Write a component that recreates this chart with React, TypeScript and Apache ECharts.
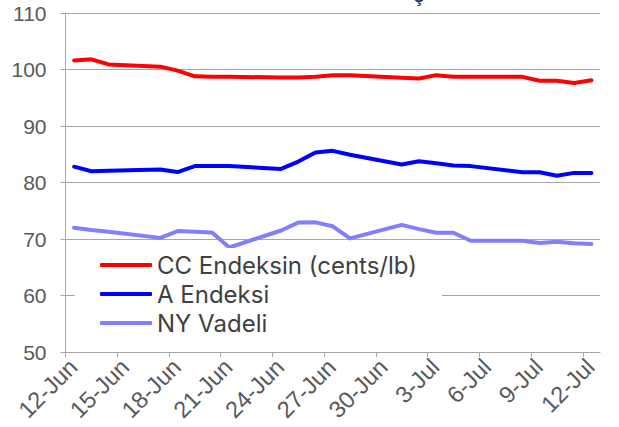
import React, { useEffect, useRef } from 'react';
import * as echarts from 'echarts';

// Trading dates (2024) and the three price series (cents/lb)
const dates = [
  '2024-06-12', '2024-06-13', '2024-06-14', '2024-06-17', '2024-06-18', '2024-06-19',
  '2024-06-20', '2024-06-21', '2024-06-24', '2024-06-25', '2024-06-26', '2024-06-27',
  '2024-06-28', '2024-07-01', '2024-07-02', '2024-07-03', '2024-07-04', '2024-07-05',
  '2024-07-08', '2024-07-09', '2024-07-10', '2024-07-11', '2024-07-12',
];
const ccIndex = [
  101.6, 101.8, 100.9, 100.5, 99.8, 98.8, 98.7, 98.7, 98.6, 98.6, 98.7, 99.0,
  99.0, 98.55, 98.4, 99.0, 98.7, 98.7, 98.7, 98.0, 98.0, 97.6, 98.1,
];
const aIndex = [
  82.8, 82.0, 82.1, 82.3, 81.85, 82.9, 82.9, 82.9, 82.4, 83.7, 85.3, 85.6,
  84.9, 83.2, 83.75, 83.4, 83.0, 82.9, 81.8, 81.8, 81.2, 81.7, 81.7,
];
const nyFutures = [
  72.0, 71.6, 71.3, 70.2, 71.4, 71.3, 71.15, 68.5, 71.5, 72.9, 72.95, 72.25,
  70.1, 72.5, 71.75, 71.1, 71.1, 69.7, 69.7, 69.3, 69.5, 69.25, 69.1,
];
const seriesNames = ['CC Endeksin (cents/lb)', 'A Endeksi', 'NY Vadeli'];
const seriesColors = ['#FF0000', '#0000FF', '#8080FF'];
const xTickLabels = [
  '12-Jun', '15-Jun', '18-Jun', '21-Jun', '24-Jun', '27-Jun',
  '30-Jun', '3-Jul', '6-Jul', '9-Jul', '12-Jul',
];
const startDate = '2024-06-12';
const tickStepDays = 3;
const totalDays = 31;
const yMin = 50;
const yMax = 110;
const yStep = 10;

const DAY_MS = 86400000;
// Excel date axis: each point sits in the middle of its day
const dayPos = (d: string) => (Date.parse(d) - Date.parse(startDate)) / DAY_MS + 0.5;
// Rotated labels in the source hang slightly right of their tick
const labelShiftDays = 0.45;

export default function App() {
  const ref = useRef<HTMLDivElement>(null);

  useEffect(() => {
    if (!ref.current) return;
    const chart = echarts.init(ref.current, null, { renderer: 'svg' });
    const xs = dates.map(dayPos);
    const toPairs = (vals: number[]) => vals.map((v, i) => [xs[i], v]);
    const tickVals = xTickLabels.map((_, i) => i * tickStepDays);
    const labelVals = tickVals.map((v) => v + labelShiftDays);
    const gridColor = '#a6a6a6';
    const allSeries = [ccIndex, aIndex, nyFutures];

    chart.setOption({
      animation: false,
      backgroundColor: '#ffffff',
      grid: { left: 65.5, right: 19, top: 13, bottom: 75 },
      xAxis: {
        type: 'value',
        min: 0,
        max: totalDays,
        interval: tickStepDays,
        axisLine: { show: true, lineStyle: { color: gridColor, width: 1 } },
        axisTick: { show: true, length: 5, lineStyle: { color: gridColor }, customValues: tickVals },
        axisLabel: {
          customValues: labelVals,
          formatter: (v: number) => xTickLabels[Math.round((v - labelShiftDays) / tickStepDays)] || '',
          rotate: 45,
          fontSize: 23.5,
          color: '#595959',
          fontFamily: 'Liberation Sans',
          margin: 11,
        },
        splitLine: { show: false },
      },
      yAxis: {
        type: 'value',
        min: yMin,
        max: yMax,
        interval: yStep,
        axisLine: { show: true, lineStyle: { color: gridColor, width: 1 } },
        axisTick: { show: true, length: 5, lineStyle: { color: gridColor } },
        axisLabel: { fontSize: 21, color: '#595959', fontFamily: 'Liberation Sans', margin: 19 },
        splitLine: { show: true, lineStyle: { color: gridColor, width: 1 } },
      },
      legend: {
        orient: 'vertical',
        left: 75,
        top: 248,
        padding: [5, 25, 5, 25],
        backgroundColor: '#ffffff',
        itemWidth: 52,
        itemHeight: 4,
        itemGap: 5,
        icon: 'roundRect',
        data: seriesNames,
        textStyle: { fontFamily: 'Inter', fontSize: 24, color: '#404040', lineHeight: 24 },
      },
      graphic: [
        {
          type: 'text',
          left: 414,
          top: -13,
          style: { text: 'ş', fontSize: 18, fontWeight: 'bold', fill: '#1F3864', fontFamily: 'Liberation Sans' },
        },
      ],
      series: allSeries.map((vals, i) => ({
        name: seriesNames[i],
        type: 'line',
        data: toPairs(vals),
        symbol: 'none',
        color: seriesColors[i],
        lineStyle: { width: 4, color: seriesColors[i], cap: 'round', join: 'round' },
      })),
    });

    return () => chart.dispose();
  }, []);

  return (
    <div
      ref={ref}
      style={{ position: 'fixed', left: 0, top: 0, width: 619, height: 427 }}
    />
  );
}
